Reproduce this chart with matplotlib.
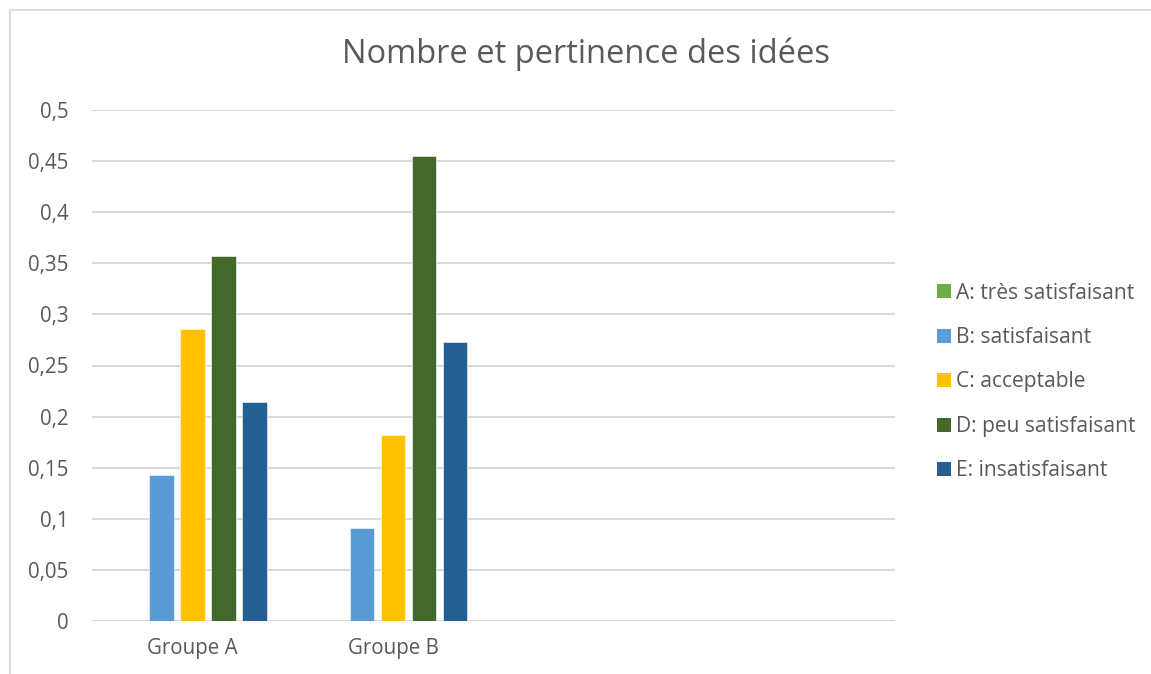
import numpy as np
import matplotlib
matplotlib.use("Agg")
import matplotlib.pyplot as plt
from matplotlib.patches import Rectangle, Patch

plt.rcParams['font.family'] = ['Open Sans', 'DejaVu Sans']

groups = ["Groupe A", "Groupe B", "", ""]
series = ["A: très satisfaisant", "B: satisfaisant", "C: acceptable",
          "D: peu satisfaisant", "E: insatisfaisant"]
vals_A = [0, 0.143, 0.286, 0.357, 0.214]
vals_B = [0, 0.091, 0.182, 0.455, 0.273]
colors = ["#70AD47", "#5B9BD5", "#FFC000", "#43682B", "#255E91"]
yticks = [0, 0.05, 0.1, 0.15, 0.2, 0.25, 0.3, 0.35, 0.4, 0.45, 0.5]

W, H = 1151, 674
fig = plt.figure(figsize=(W / 100, H / 100), dpi=100)

# chart border
fig.patches.append(Rectangle((10 / W, -0.1), 1.2, 1.1 - 10 / H,
                             transform=fig.transFigure, fill=False,
                             edgecolor="#D9D9D9", lw=1.2))

ax = fig.add_axes([92 / W, 1 - 621 / H, (895 - 92) / W, (621 - 110) / H])

x = np.arange(len(groups))
step = 0.1545
bw = 0.122
for i, s in enumerate(series):
    v = [vals_A[i], vals_B[i], 0, 0]
    ax.bar(x + (i - 2) * step, v, bw, color=colors[i], label=s,
           edgecolor="white", linewidth=0.4, zorder=3)

ax.set_xlim(-0.5, len(groups) - 0.5)
ax.set_ylim(0, 0.5)
ax.set_yticks(yticks)
ax.set_yticklabels([("%g" % t).replace(".", ",") for t in yticks])
ax.set_xticks(x[:2])
ax.set_xticklabels(groups[:2])
ax.grid(axis="y", color="#D9D9D9", lw=1.5, zorder=0)
for sp in ax.spines.values():
    sp.set_visible(False)
ax.tick_params(axis="both", length=0, labelsize=14.8, colors="#595959")
ax.tick_params(axis="y", pad=17)
ax.tick_params(axis="x", pad=12)

fig.text(586 / W, 1 - 63 / H, "Nombre et pertinence des idées", ha="center",
         va="baseline", fontsize=23.5, color="#595959")

handles = [Patch(facecolor=c, edgecolor="none") for c in colors]
leg = fig.legend(handles, series, loc="center left",
                 bbox_to_anchor=(922 / W, 1 - 382 / H), frameon=False,
                 fontsize=15.1, handlelength=0.66, handleheight=0.66,
                 handletextpad=0.27, labelspacing=1.12, borderpad=0.2)
for t in leg.get_texts():
    t.set_color("#595959")

fig.savefig("out.png", dpi=100)
